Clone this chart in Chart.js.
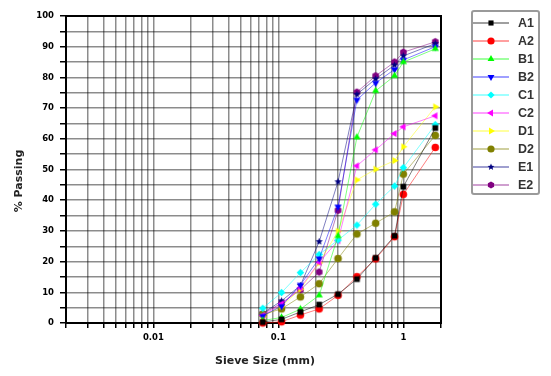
<!DOCTYPE html>
<html>
<head>
<meta charset="utf-8">
<script src="https://cdn.jsdelivr.net/npm/chart.js@4.4.1/dist/chart.umd.min.js"></script>
<style>
  html, body { margin: 0; padding: 0; background: #fff; }
  #wrap { position: relative; width: 551px; height: 376px; }
  #legend {
    position: absolute; left: 471px; top: 10px; width: 69px; height: 185px;
    box-sizing: border-box; border: 2px solid #9a9a9a; border-radius: 3px;
    padding-top: 2px; font: bold 12.5px "Liberation Sans", Arial, sans-serif; color: #333;
  }
  .item { height: 18px; display: flex; align-items: center; }
</style>
</head>
<body>
<div id="wrap">
  <canvas id="canvas" width="551" height="376"></canvas>
  <div id="legend"></div>
</div>
<script>
// sieve openings (mm)
const sieveSizes = [0.075, 0.106, 0.15, 0.212, 0.3, 0.425, 0.6, 0.85, 1.0, 1.8]
const seriesNames = ["A1", "A2", "B1", "B2", "C1", "C2", "D1", "D2", "E1", "E2"]

// % passing
const A1 = [0.3, 1.2, 3.6, 6.0, 9.4, 14.3, 21.2, 28.4, 44.4, 63.5]
const A2 = [0.0, 0.4, 2.6, 4.6, 9.0, 15.1, 20.9, 28.1, 41.9, 57.2]
const B1 = [0.8, 1.8, 4.5, 9.0, 28.3, 60.5, 75.6, 80.5, 85.0, 89.3]
const B2 = [2.3, 5.5, 12.4, 21.0, 37.9, 72.7, 78.2, 82.6, 85.7, 90.0]
const C1 = [4.8, 9.9, 16.4, 22.3, 27.0, 31.9, 38.7, 44.6, 50.6, 64.6]
const C2 = [2.5, 6.2, 11.5, 19.8, 26.8, 51.2, 56.4, 61.7, 63.9, 67.5]
const D1 = [2.0, 5.5, 11.0, 19.6, 29.9, 46.6, 50.1, 52.9, 57.4, 70.4]
const D2 = [2.8, 4.6, 8.5, 12.8, 21.0, 29.0, 32.5, 36.2, 48.5, 61.1]
const E1 = [3.2, 7.2, 12.2, 26.5, 46.0, 74.5, 79.5, 84.0, 87.0, 91.0]
const E2 = [3.0, 6.5, 10.8, 16.6, 36.7, 75.2, 80.5, 85.0, 88.2, 91.6]
const seriesValues = [A1, A2, B1, B2, C1, C2, D1, D2, E1, E2]

const xGridTicks = [0.002, 0.003, 0.004, 0.005, 0.006, 0.007, 0.008, 0.009,
  0.01, 0.02, 0.03, 0.04, 0.05, 0.06, 0.07, 0.08, 0.09,
  0.1, 0.2, 0.3, 0.4, 0.5, 0.6, 0.7, 0.8, 0.9, 1, 2]
const xTickLabels = [0.01, 0.1, 1]
const yTickLabels = [0, 10, 20, 30, 40, 50, 60, 70, 80, 90, 100]

const styles = [
  { color: "#000000", shape: "square" },
  { color: "#ff0000", shape: "circle" },
  { color: "#00ff00", shape: "up" },
  { color: "#0000ff", shape: "down" },
  { color: "#00ffff", shape: "diamond" },
  { color: "#ff00ff", shape: "left" },
  { color: "#ffff00", shape: "right" },
  { color: "#808000", shape: "circle" },
  { color: "#000080", shape: "star" },
  { color: "#800080", shape: "hexagon" }
]

function fade(hex) {
  const n = parseInt(hex.slice(1), 16)
  return `rgba(${n >> 16 & 255},${n >> 8 & 255},${n & 255},0.5)`
}

function shapePath(ctx, shape, cx, cy, r) {
  ctx.beginPath()
  if (shape == "square") {
    ctx.rect(cx - r * 0.8, cy - r * 0.8, r * 1.6, r * 1.6)
  } else if (shape == "circle") {
    ctx.arc(cx, cy, r, 0, Math.PI * 2)
  } else if (shape == "diamond") {
    ctx.moveTo(cx, cy - r); ctx.lineTo(cx + r, cy); ctx.lineTo(cx, cy + r); ctx.lineTo(cx - r, cy)
  } else if (shape == "star" || shape == "hexagon") {
    const n = shape == "star" ? 10 : 6
    for (let i = 0; i < n; i++) {
      const a = -Math.PI / 2 + i * Math.PI * 2 / n
      const rr = shape == "star" && i % 2 ? r * 0.45 : r
      ctx.lineTo(cx + rr * Math.cos(a), cy + rr * Math.sin(a))
    }
  } else {
    const rot = { up: 0, right: 90, down: 180, left: 270 }[shape] * Math.PI / 180
    for (let i = 0; i < 3; i++) {
      const a = rot - Math.PI / 2 + i * Math.PI * 2 / 3
      ctx.lineTo(cx + r * 1.1 * Math.cos(a), cy + r * 1.1 * Math.sin(a))
    }
  }
  ctx.closePath()
}

function markerImage(shape, color, r) {
  const c = document.createElement("canvas")
  c.width = c.height = Math.ceil(r * 2 + 3)
  const ctx = c.getContext("2d")
  ctx.fillStyle = color
  shapePath(ctx, shape, c.width / 2, c.height / 2, r)
  ctx.fill()
  return c
}

const datasets = seriesNames.map((name, i) => {
  const st = styles[i]
  return {
    label: name,
    data: sieveSizes.map((x, j) => ({ x, y: seriesValues[i][j] })),
    showLine: true,
    borderColor: fade(st.color),
    borderWidth: 1,
    pointStyle: markerImage(st.shape, st.color, st.shape == "square" ? 3.6 : 3.8),
    pointRadius: 4,
    clip: false
  }
})

// legend
const legend = document.getElementById("legend")
seriesNames.forEach((name, i) => {
  const st = styles[i]
  const row = document.createElement("div")
  row.className = "item"
  const sample = document.createElement("canvas")
  sample.width = 36; sample.height = 12
  sample.style.marginRight = "9px"
  const sctx = sample.getContext("2d")
  sctx.strokeStyle = fade(st.color)
  sctx.lineWidth = 1.5
  sctx.beginPath(); sctx.moveTo(0, 6); sctx.lineTo(36, 6); sctx.stroke()
  sctx.fillStyle = st.color
  shapePath(sctx, st.shape, 18, 6, st.shape == "square" ? 3.2 : 3.6)
  sctx.fill()
  row.appendChild(sample)
  row.appendChild(document.createTextNode(name))
  legend.appendChild(row)
})

const frame = {
  id: "frame",
  beforeDatasetsDraw(chart) {
    const { ctx, chartArea: a } = chart
    ctx.save()
    ctx.strokeStyle = "#000"
    ctx.lineWidth = 2
    ctx.strokeRect(a.left, a.top, a.right - a.left, a.bottom - a.top)
    ctx.restore()
  }
}

const tickFont = { family: "DejaVu Sans", weight: "bold", size: 8.5 }
const titleFont = { family: "DejaVu Sans", weight: "bold", size: 11 }
const gridColor = "rgba(0,0,0,0.45)"

new Chart(document.getElementById("canvas"), {
  type: "scatter",
  data: { datasets },
  plugins: [frame],
  options: {
    responsive: false,
    animation: false,
    layout: { padding: { left: 0, top: 16, right: 110, bottom: 0 } },
    plugins: { legend: { display: false }, tooltip: { enabled: false } },
    scales: {
      x: {
        type: "logarithmic",
        min: 0.002,
        max: 2,
        afterBuildTicks: s => { s.ticks = xGridTicks.map(v => ({ value: v })) },
        afterFit: s => { s.height = 53 },
        ticks: {
          autoSkip: false, maxRotation: 0, minRotation: 0, padding: 5,
          color: "#000", font: tickFont,
          callback: v => xTickLabels.find(t => Math.abs(t - v) < 1e-9) !== undefined ? String(v) : ""
        },
        grid: { color: gridColor, lineWidth: 1.5, tickLength: 5, tickColor: "#000" },
        border: { display: false },
        title: {
          display: true, text: "      Sieve Size (mm)", color: "#222", font: titleFont,
          padding: { top: 0, bottom: 8 }
        }
      },
      y: {
        min: 0,
        max: 100,
        afterFit: s => { s.width = 66 },
        ticks: {
          stepSize: 5, padding: 6, color: "#000", font: tickFont,
          callback: v => yTickLabels.includes(v) ? String(v) : ""
        },
        grid: { color: gridColor, lineWidth: 1.5, tickLength: 6, tickColor: "#000" },
        border: { display: false },
        title: {
          display: true, text: "% Passing      ", color: "#222", font: titleFont,
          padding: { top: 13, bottom: 0 }
        }
      }
    }
  }
})
</script>
</body>
</html>
